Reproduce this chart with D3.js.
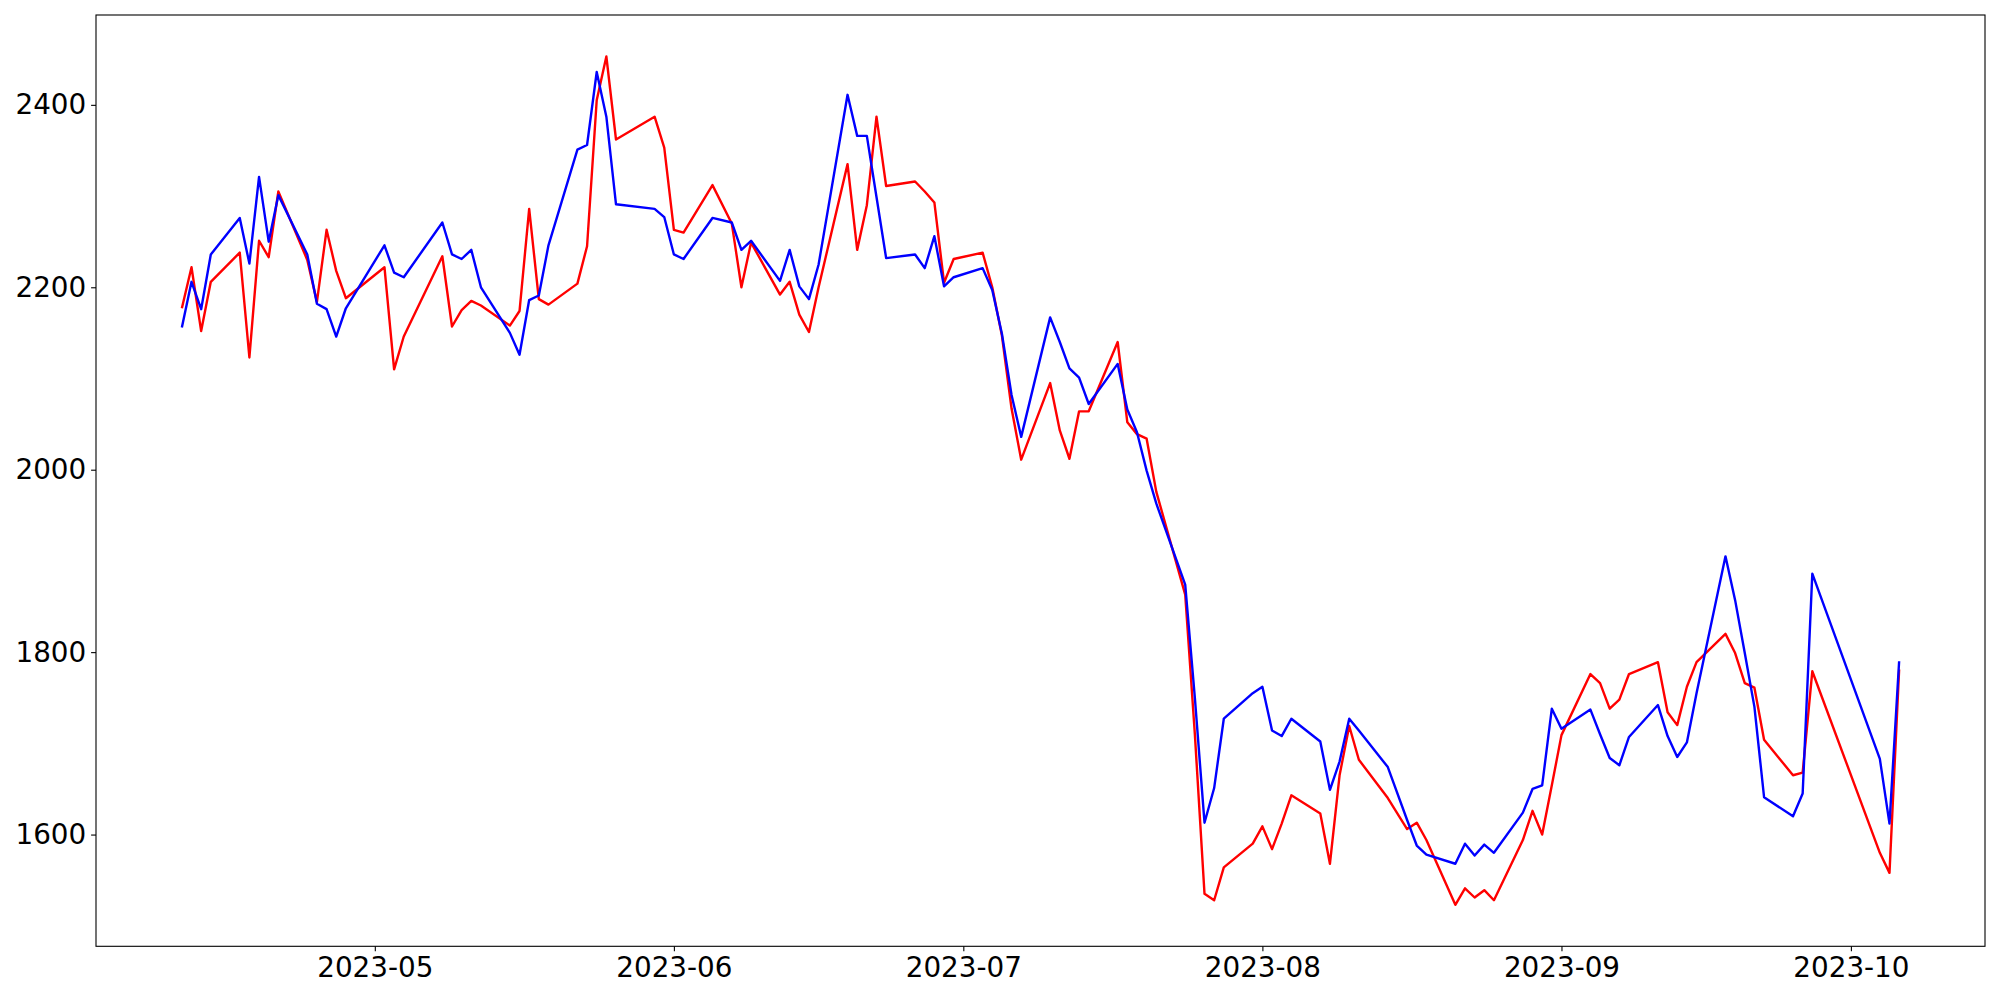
<!DOCTYPE html>
<html>
<head>
<meta charset="utf-8">
<script src="https://cdn.jsdelivr.net/npm/d3@7"></script>
<style>
  html, body { margin: 0; padding: 0; background: #ffffff; }
  svg { display: block; }
  text { font-family: "DejaVu Sans", sans-serif; }
</style>
</head>
<body>
<svg id="chart" width="2000" height="1000"></svg>
<script>
// Trading days (Korean market calendar, 2023)
const dates = [
  "2023-04-11","2023-04-12","2023-04-13","2023-04-14","2023-04-17","2023-04-18","2023-04-19","2023-04-20","2023-04-21",
  "2023-04-24","2023-04-25","2023-04-26","2023-04-27","2023-04-28",
  "2023-05-02","2023-05-03","2023-05-04","2023-05-08","2023-05-09","2023-05-10","2023-05-11","2023-05-12",
  "2023-05-15","2023-05-16","2023-05-17","2023-05-18","2023-05-19","2023-05-22","2023-05-23","2023-05-24","2023-05-25","2023-05-26",
  "2023-05-30","2023-05-31","2023-06-01","2023-06-02","2023-06-05","2023-06-07","2023-06-08","2023-06-09",
  "2023-06-12","2023-06-13","2023-06-14","2023-06-15","2023-06-16","2023-06-19","2023-06-20","2023-06-21","2023-06-22","2023-06-23",
  "2023-06-26","2023-06-27","2023-06-28","2023-06-29","2023-06-30",
  "2023-07-03","2023-07-04","2023-07-05","2023-07-06","2023-07-07","2023-07-10","2023-07-11","2023-07-12","2023-07-13","2023-07-14",
  "2023-07-17","2023-07-18","2023-07-19","2023-07-20","2023-07-21","2023-07-24","2023-07-25","2023-07-26","2023-07-27","2023-07-28",
  "2023-07-31","2023-08-01","2023-08-02","2023-08-03","2023-08-04","2023-08-07","2023-08-08","2023-08-09","2023-08-10","2023-08-11",
  "2023-08-14","2023-08-16","2023-08-17","2023-08-18","2023-08-21","2023-08-22","2023-08-23","2023-08-24","2023-08-25",
  "2023-08-28","2023-08-29","2023-08-30","2023-08-31","2023-09-01","2023-09-04","2023-09-05","2023-09-06","2023-09-07","2023-09-08",
  "2023-09-11","2023-09-12","2023-09-13","2023-09-14","2023-09-15","2023-09-18","2023-09-19","2023-09-20","2023-09-21","2023-09-22",
  "2023-09-25","2023-09-26","2023-09-27","2023-10-04","2023-10-05","2023-10-06"
];

const redValues = [
  2177,2222,2152,2206,2238,2123,2251,2233,2305,
  2230,2184,2263,2218,2188,
  2222,2110,2146,2234,2157,2175,2185,2180,
  2158,2174,2286,2187,2181,2204,2245,2405,2453,2362,
  2387,2353,2263,2260,2312,2270,2200,2249,
  2192,2206,2170,2151,2200,2335,2241,2290,2387,2311,
  2316,2305,2293,2205,2231,
  2238,2200,2147,2067,2011,2095,2043,2012,2064,2064,
  2140,2052,2039,2034,1976,1863,1710,1535,1528,1564,
  1590,1609,1584,1612,1643,1623,1568,1665,1719,1682,
  1640,1606,1613,1594,1523,1541,1531,1539,1528,
  1594,1626,1600,1654,1709,1776,1766,1738,1748,1776,
  1789,1734,1720,1762,1789,1820,1799,1766,1761,1704,
  1665,1668,1779,1580,1558,1781
];

const blueValues = [
  2156,2206,2176,2236,2276,2226,2321,2250,2301,
  2236,2182,2176,2146,2177,
  2246,2216,2211,2271,2236,2231,2241,2200,
  2150,2126,2186,2191,2246,2351,2356,2436,2387,2291,
  2286,2277,2236,2231,2276,2271,2241,2251,
  2207,2241,2201,2187,2225,2411,2366,2366,2299,2232,
  2236,2221,2256,2201,2211,
  2221,2197,2149,2082,2036,2167,2140,2111,2101,2072,
  2116,2066,2041,1999,1963,1874,1750,1613,1651,1727,
  1755,1762,1714,1708,1727,1702,1649,1680,1727,1714,
  1674,1616,1588,1578,1568,1590,1577,1589,1580,
  1624,1650,1654,1738,1716,1737,1710,1684,1676,1707,
  1742,1708,1685,1701,1755,1905,1857,1799,1740,1641,
  1620,1645,1886,1683,1612,1790
];

const yTickValues = [1600, 1800, 2000, 2200, 2400];
const xTickLabels = ["2023-05", "2023-06", "2023-07", "2023-08", "2023-09", "2023-10"];

// Layout
const plot = { left: 96, right: 1985, top: 15, bottom: 946.3 };
const fontSize = 27.8;
const tickLen = 4.9;
const tickPad = 4.9;

const parse = d3.timeParse("%Y-%m-%d");
const parseMonth = d3.timeParse("%Y-%m");
const xDates = dates.map(parse);

const ext = d3.extent(xDates);
const padMs = (ext[1] - ext[0]) * 0.05;
const x = d3.scaleTime()
  .domain([new Date(+ext[0] - padMs), new Date(+ext[1] + padMs)])
  .range([plot.left, plot.right]);

const y = d3.scaleLinear()
  .domain([1477.5, 2498.5])
  .range([plot.bottom, plot.top]);

const svg = d3.select("#chart");
svg.append("rect").attr("width", 2000).attr("height", 1000).attr("fill", "#ffffff");

svg.append("defs").append("clipPath").attr("id", "clip")
  .append("rect")
  .attr("x", plot.left).attr("y", plot.top)
  .attr("width", plot.right - plot.left).attr("height", plot.bottom - plot.top);

const line = d3.line()
  .x((d, i) => x(xDates[i]))
  .y(d => y(d));

const g = svg.append("g").attr("clip-path", "url(#clip)");
g.append("path")
  .datum(redValues)
  .attr("fill", "none")
  .attr("stroke", "#ff0000")
  .attr("stroke-width", 2.4)
  .attr("stroke-linejoin", "round")
  .attr("stroke-linecap", "butt")
  .attr("d", line);
g.append("path")
  .datum(blueValues)
  .attr("fill", "none")
  .attr("stroke", "#0000ff")
  .attr("stroke-width", 2.4)
  .attr("stroke-linejoin", "round")
  .attr("stroke-linecap", "butt")
  .attr("d", line);

// Axes
const xAxis = d3.axisBottom(x)
  .tickValues(xTickLabels.map(parseMonth))
  .tickFormat(d3.timeFormat("%Y-%m"))
  .tickSize(tickLen)
  .tickPadding(tickPad);
const yAxis = d3.axisLeft(y)
  .tickValues(yTickValues)
  .tickFormat(d3.format("d"))
  .tickSize(tickLen)
  .tickPadding(tickPad);

const gx = svg.append("g").attr("transform", `translate(0,${plot.bottom})`).call(xAxis);
const gy = svg.append("g").attr("transform", `translate(${plot.left},0)`).call(yAxis);

[gx, gy].forEach(ax => {
  ax.select(".domain").remove();
  ax.selectAll(".tick line").attr("stroke", "#000").attr("stroke-width", 1.1);
  ax.selectAll(".tick text")
    .attr("fill", "#000")
    .style("font-family", "'DejaVu Sans', sans-serif")
    .style("font-size", fontSize + "px");
});
gx.selectAll(".tick text").attr("dy", "0.76em");

// Frame
svg.append("rect")
  .attr("x", plot.left).attr("y", plot.top)
  .attr("width", plot.right - plot.left).attr("height", plot.bottom - plot.top)
  .attr("fill", "none").attr("stroke", "#000").attr("stroke-width", 1.1);
</script>
</body>
</html>
